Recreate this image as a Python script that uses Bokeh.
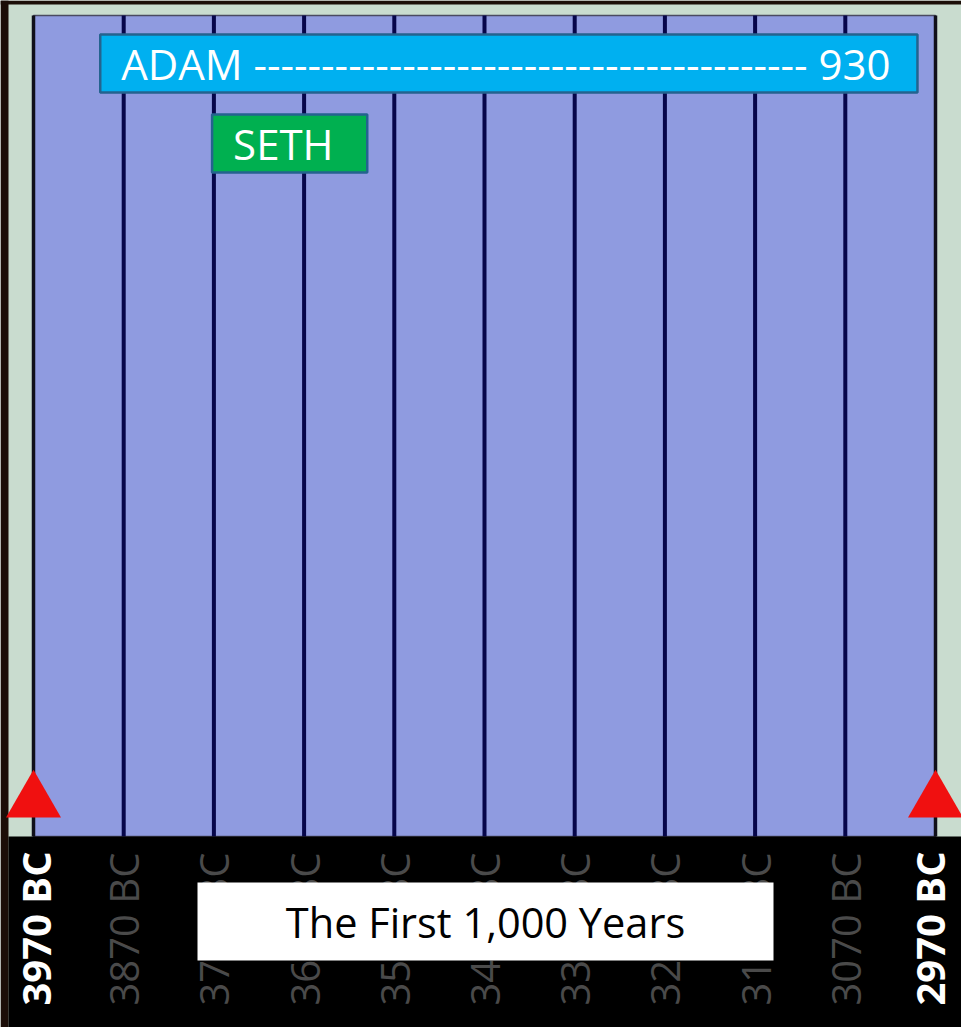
import math
from bokeh.plotting import figure
from bokeh.models import Range1d, ColumnDataSource
from bokeh.core.properties import value
from bokeh.embed import file_html
from bokeh.resources import INLINE

# ---------------- data ----------------
tick_years_bc = [3970, 3870, 3770, 3670, 3570, 3470, 3370, 3270, 3170, 3070, 2970]
tick_labels = ["3970 BC", "3870 BC", "3770 BC", "3670 BC", "3570 BC", "3470 BC",
               "3370 BC", "3270 BC", "3170 BC", "3070 BC", "2970 BC"]
tick_is_end = [True, False, False, False, False, False, False, False, False, False, True]

person_names = ["ADAM", "SETH"]
person_start_bc = [3896, 3772]
person_end_bc = [2990, 3600]
person_lifespan = ["930", ""]
person_colors = ["#00b0f0", "#00b050"]

marker_years_bc = [3970, 2970]
title_text = "The First 1,000 Years"

# ---------------- layout ----------------
W, H = 961, 1027
PX_PER_YEAR = 902 / 1000.0          # 1000 years span 902 px
LEFT_PX = 33                         # first tick offset from figure left edge
x_start = tick_years_bc[0] + LEFT_PX / PX_PER_YEAR
x_end = tick_years_bc[0] - (W - LEFT_PX) / PX_PER_YEAR

def yrs(px):
    return px / PX_PER_YEAR

p = figure(width=W, height=H, output_backend="svg", toolbar_location=None,
           x_range=Range1d(x_start, x_end), y_range=Range1d(H, 0),
           min_border=0, min_border_left=0, min_border_right=0,
           min_border_top=0, min_border_bottom=0)
p.axis.visible = False
p.grid.visible = False
p.outline_line_color = None
p.background_fill_color = "#c9dccf"
p.border_fill_color = "#c9dccf"

first, last = tick_years_bc[0], tick_years_bc[-1]
TOP, BOTTOM = 15, 836

# dark outer frame (top and left)
p.quad(left=[x_start], right=[x_end], top=[0], bottom=[4],
       fill_color="#1c0e08", line_color=None)
p.quad(left=[x_start], right=[x_start - yrs(8)], top=[0], bottom=[H],
       fill_color="#1c0e08", line_color=None)

# timeline area
p.quad(left=[first], right=[last], top=[TOP], bottom=[BOTTOM],
       fill_color="#8f9be0", line_color="#4a4a60", line_width=1.5)

# inner century lines
n_mid = len(tick_years_bc) - 2
p.segment(x0=tick_years_bc[1:-1], x1=tick_years_bc[1:-1],
          y0=[TOP] * n_mid, y1=[BOTTOM] * n_mid,
          line_color="#06064a", line_width=4)
# edge lines
p.segment(x0=[first, last], x1=[first, last], y0=[TOP, TOP], y1=[BOTTOM, BOTTOM],
          line_color="#10101a", line_width=3.5)

# black label band
p.quad(left=[x_start - yrs(8)], right=[x_end], top=[BOTTOM], bottom=[H],
       fill_color="#000000", line_color=None)

# person bars
ROW0_TOP, ROW_STEP, BAR_H = 34, 80, 58
tops = [ROW0_TOP + ROW_STEP * i for i in range(len(person_names))]
bars = ColumnDataSource(dict(
    left=person_start_bc, right=person_end_bc,
    top=tops, bottom=[t + BAR_H for t in tops],
    color=person_colors,
))
p.quad(left="left", right="right", top="top", bottom="bottom", source=bars,
       fill_color="color", line_color="#24638f", line_width=2.5)

labels = []
for name, span in zip(person_names, person_lifespan):
    if span:
        labels.append(name + " " + "-" * 41 + " " + span)
    else:
        labels.append(name)
p.text(x=[s - yrs(21) for s in person_start_bc],
       y=[t + BAR_H / 2 for t in tops], text=labels,
       text_font=value("Open Sans"), text_font_size="42px",
       text_color="white", text_align="left", text_baseline="middle")

# red markers
p.scatter(x=marker_years_bc, y=[801, 801], marker="triangle", size=55,
          fill_color="#f01010", line_color=None)

# tick labels (vertical)
end_x = [x for x, e in zip(tick_years_bc, tick_is_end) if e]
end_t = [t for t, e in zip(tick_labels, tick_is_end) if e]
mid_x = [x for x, e in zip(tick_years_bc, tick_is_end) if not e]
mid_t = [t for t, e in zip(tick_labels, tick_is_end) if not e]
p.text(x=mid_x, y=[1005] * len(mid_x), text=mid_t, angle=math.pi / 2,
       text_font=value("Open Sans"), text_font_size="40px",
       text_color="#4a4a4a", text_align="left", text_baseline="middle")
end_shift_px = [2, -6]
p.text(x=[x - yrs(s) for x, s in zip(end_x, end_shift_px)], y=[1005] * len(end_x),
       text=end_t, angle=math.pi / 2,
       text_font=value("Open Sans"), text_font_size="40px", text_font_style="bold",
       text_color="#ffffff", text_align="left", text_baseline="middle")

# title box
box_l = first - yrs(197 - 33)
box_r = first - yrs(773 - 33)
p.quad(left=[box_l], right=[box_r], top=[882], bottom=[960],
       fill_color="#ffffff", line_color=None)
p.text(x=[(box_l + box_r) / 2], y=[921], text=[title_text],
       text_font=value("Open Sans"), text_font_size="41.5px",
       text_color="#000000", text_align="center", text_baseline="middle")

open("out.html", "w").write(file_html(p, INLINE))
